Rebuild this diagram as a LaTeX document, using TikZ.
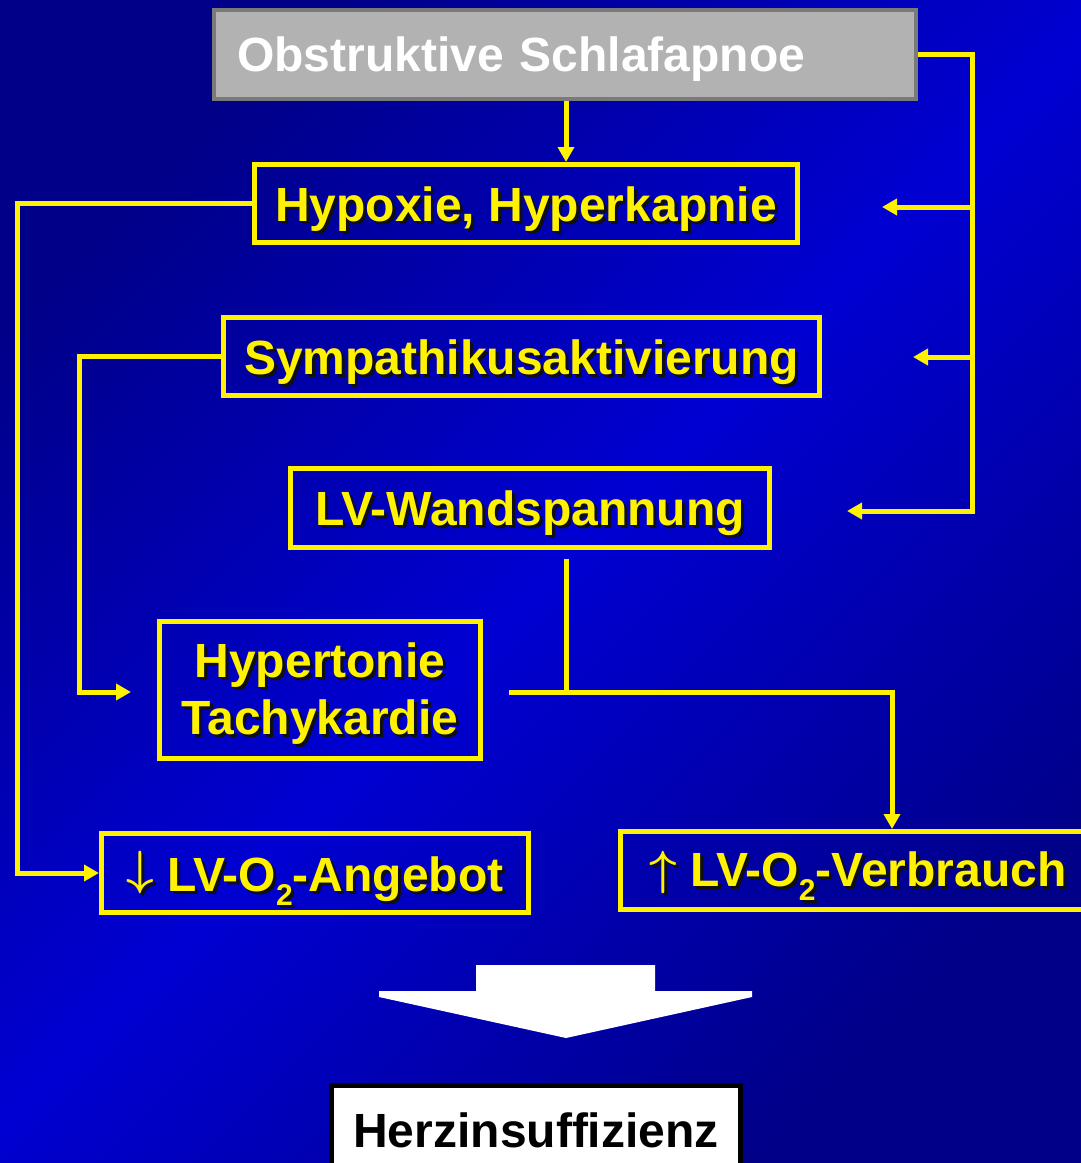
\RequirePackage{fix-cm}
\documentclass[tikz,border=0pt]{standalone}
\usepackage{fontspec}
\setmainfont{Liberation Sans}[Ligatures=NoCommon]
\usetikzlibrary{arrows.meta}
\definecolor{bgdark}{RGB}{0,0,136}
\definecolor{bgmid}{RGB}{0,0,210}
\definecolor{boxgray}{RGB}{178,178,178}
\definecolor{bordgray}{RGB}{122,122,122}
\definecolor{shadowc}{RGB}{15,15,15}
\newcommand{\shd}[1]{\makebox[0pt][l]{\kern3pt\raisebox{-3pt}{\color{shadowc}#1}}#1}
\newcommand{\mv}[2]{\raisebox{#1}[\height][\depth]{#2}}
\newcommand{\osub}{\raisebox{-0.3em}{\fontsize{30}{30}\selectfont 2}}
\newcommand{\dnarr}{\raisebox{7pt}{\boldmath$\downarrow$}}
\newcommand{\uparr}{\raisebox{2pt}{\boldmath$\uparrow$}}
\begin{document}
\begin{tikzpicture}[x=1pt,y=-1pt,
  ybox/.style={draw=yellow, line width=5pt, rectangle, inner sep=0pt, text=yellow,
    font=\bfseries\fontsize{48}{57}\selectfont, align=center},
  ln/.style={draw=yellow, line width=5pt, line join=miter},
  arr/.style={ln, -{Triangle[length=15pt,width=16pt]}},
]
\useasboundingbox (0,0) rectangle (1081,1163);
\clip (0,0) rectangle (1081,1163);
\shade[top color=bgdark, bottom color=bgdark, middle color=bgmid, shading angle=45]
  (0,0) rectangle (1081,1163);

% nodes
\node[draw=bordgray, fill=boxgray, line width=4pt, rectangle, inner xsep=23pt, inner ysep=0pt,
  text width=656pt, minimum height=89pt, align=left, text=white,
  font=\bfseries\fontsize{48}{57}\selectfont] (gray) at (565,54.5) {\mv{-5pt}{Obstruktive Schlafapnoe}};
\node[ybox, minimum width=543pt, minimum height=78pt] (hyp) at (526,203.5) {\mv{-7pt}{\shd{Hypoxie, Hyperkapnie}}};
\node[ybox, minimum width=596pt, minimum height=78pt] (sym) at (521.5,356.5) {\mv{-7pt}{\shd{Sympathikusaktivierung}}};
\node[ybox, minimum width=479pt, minimum height=79pt] (wand) at (530,508) {\mv{-7pt}{\shd{LV-Wandspannung}}};
\node[ybox, minimum width=321pt, minimum height=137pt] (hyt) at (320,690) {\mv{-5pt}{\shd{Hypertonie}}\\\mv{-5pt}{\shd{Tachykardie}}};
\node[ybox, minimum width=427pt, minimum height=79pt] (ang) at (315,873) {\mv{-7pt}{\shd{\dnarr{} LV-O\osub-Angebot}}};
\node[ybox, minimum width=475pt, minimum height=78pt] (ver) at (858,870.5) {\mv{-7pt}{\shd{\uparr{} LV-O\osub-Verbrauch}}};
\node[draw=black, fill=white, line width=5pt, rectangle, inner sep=0pt, minimum width=409pt,
  minimum height=100pt, font=\bfseries\fontsize{48}{57}\selectfont, text=black] (herz) at (536,1135) {\mv{5pt}{Herzinsuffizienz}};

% helper coordinates
\coordinate (xc) at (566,0);
\coordinate (rx) at (972,0);
\coordinate (t1) at (882,207);
\coordinate (t2) at (913,357);
\coordinate (t3) at (847,511);
\coordinate (lx1) at (17,0);
\coordinate (lx2) at (79,0);
\coordinate (t4) at (131,692);
\coordinate (w0) at (566,559);
\coordinate (jn) at (566,692);
\coordinate (h0) at (509,692);
\coordinate (vx) at (892,0);

% connectors
\draw[arr] (gray.south -| xc) -- (hyp.north -| xc);
\draw[arr] (gray.east) -- (gray.east -| rx) -- (rx |- t3) -- (t3);
\draw[arr] (rx |- t1) -- (t1);
\draw[arr] (rx |- t2) -- (t2);
\draw[arr] (hyp.west) -- (hyp.west -| lx1) -- (lx1 |- ang.west) -- (ang.west);
\draw[arr] (sym.west) -- (sym.west -| lx2) -- (lx2 |- t4) -- (t4);
\draw[ln] (w0) -- (jn);
\draw[arr] (h0) -- (h0 -| vx) -- (ver.north -| vx);

% big white arrow
\fill[white] (476,965) -- (655,965) -- (655,991) -- (752,991) -- (752,997) -- (566,1038)
  -- (379,997) -- (379,991) -- (476,991) -- cycle;
\end{tikzpicture}
\end{document}
